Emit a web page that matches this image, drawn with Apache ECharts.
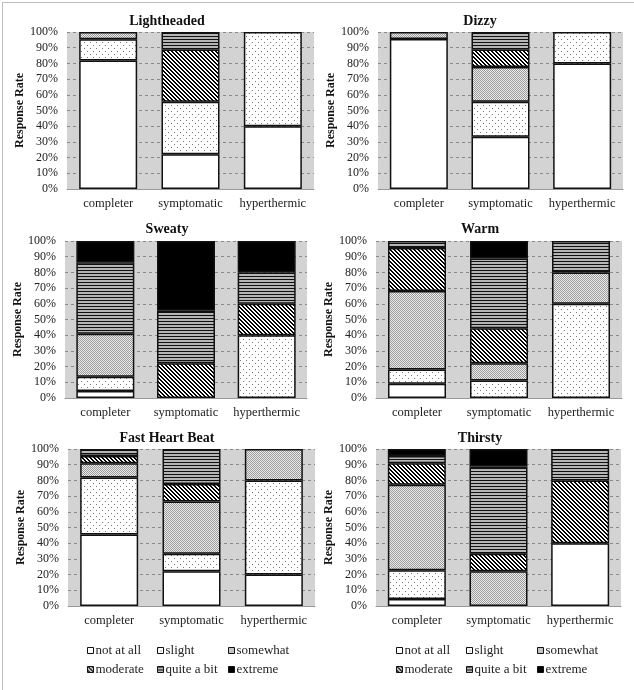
<!DOCTYPE html>
<html><head><meta charset="utf-8">
<script src="https://cdn.jsdelivr.net/npm/echarts@6/dist/echarts.min.js"></script>
<style>html,body{margin:0;padding:0;background:#fff}#c{width:634px;height:690px}</style>
</head><body><div id="c"></div>
<script>
// Categories and response levels
const groups = ['completer', 'symptomatic', 'hyperthermic'];
const levels = ['not at all', 'slight', 'somewhat', 'moderate', 'quite a bit', 'extreme'];
const yTicks = [0, 10, 20, 30, 40, 50, 60, 70, 80, 90, 100];
const titles = ['Lightheaded', 'Dizzy', 'Sweaty', 'Warm', 'Fast Heart Beat', 'Thirsty'];
// Each row = one response level; columns = completer, symptomatic, hyperthermic (%)
const lightheaded = [[81.8, 22.2, 40], [13.6, 33.3, 60], [4.6, 0, 0], [0, 33.3, 0], [0, 11.2, 0], [0, 0, 0]];
const dizzy       = [[95.5, 33.3, 80], [0, 22.2, 20], [4.5, 22.2, 0], [0, 11.1, 0], [0, 11.2, 0], [0, 0, 0]];
const sweaty      = [[4.5, 0, 0], [9.1, 0, 40], [27.3, 0, 0], [0, 22.2, 20], [45.5, 33.3, 20], [13.6, 44.5, 20]];
const warm        = [[9.1, 0, 0], [9.1, 11.1, 60], [50, 11.1, 20], [27.3, 22.2, 0], [4.5, 44.4, 20], [0, 11.2, 0]];
const heartBeat   = [[45.5, 22.2, 20], [36.4, 11.1, 60], [9.1, 33.3, 20], [4.5, 11.1, 0], [4.5, 22.3, 0], [0, 0, 0]];
const thirsty     = [[4.5, 0, 40], [18.2, 0, 0], [54.6, 22.2, 0], [13.6, 11.1, 40], [4.6, 55.6, 20], [4.5, 11.1, 0]];
const panels = [lightheaded, dizzy, sweaty, warm, heartBeat, thirsty];

function pat(w, h, fn) {
  const c = document.createElement('canvas'); c.width = w; c.height = h;
  const g = c.getContext('2d');
  for (let y = 0; y < h; y++) for (let x = 0; x < w; x++) {
    g.fillStyle = fn(x, y); g.fillRect(x, y, 1, 1);
  }
  return { image: c, repeat: 'repeat' };
}
const fills = [
  '#ffffff',
  pat(6, 6, (x, y) => ((x === 0 && y === 0) || (x === 3 && y === 3)) ? '#777' : '#ffffff'),
  pat(2, 2, (x, y) => ((x + y) % 2 === 0) ? '#9a9a9a' : '#ececec'),
  pat(4, 4, (x, y) => (((x - y) % 4 + 4) % 4 < 2) ? '#000' : '#fff'),
  pat(1, 3, (x, y) => y === 0 ? '#111' : '#b5b5b5'),
  '#000000'
];

const gridsPos = [
  { left: 67, top: 32, width: 247, height: 157 },
  { left: 378, top: 32, width: 245, height: 157 },
  { left: 65, top: 241, width: 242, height: 157 },
  { left: 376, top: 241, width: 246, height: 157 },
  { left: 68, top: 449, width: 247, height: 157 },
  { left: 376, top: 449, width: 245, height: 157 }
];
const font = 'Liberation Serif';
const titleCenters = [162, 475, 162, 475, 162, 475];
const titleTops = [9, 9, 217, 217, 426, 426];

const grid = [], xAxis = [], yAxis = [], series = [], title = [];
gridsPos.forEach((p, i) => {
  grid.push(Object.assign({ show: true, backgroundColor: '#d3d3d3', borderWidth: 0 }, p));
  title.push({
    text: titles[i], left: titleCenters[i], top: titleTops[i], textAlign: 'center',
    textStyle: { fontFamily: font, fontWeight: 'bold', fontSize: 14, color: '#111' }
  });
  xAxis.push({
    type: 'category', gridIndex: i, data: groups,
    axisLine: { show: true, lineStyle: { color: '#999', width: 1 } },
    axisTick: { show: false },
    axisLabel: { interval: 0, fontFamily: font, fontSize: 12.5, color: '#222', margin: 8 }
  });
  yAxis.push({
    type: 'value', gridIndex: i, min: yTicks[0], max: yTicks[yTicks.length - 1], interval: 10,
    name: 'Response Rate', nameLocation: 'middle', nameGap: 37,
    nameTextStyle: { fontFamily: font, fontWeight: 'bold', fontSize: 12, color: '#111' },
    axisLine: { show: false }, axisTick: { show: false },
    axisLabel: { fontFamily: font, fontSize: 12, color: '#222', formatter: '{value}%', margin: 9 },
    splitLine: { show: true, lineStyle: { color: '#8a8a8a', type: [3, 3], width: 1 } }
  });
  levels.forEach((lv, k) => {
    series.push({
      name: lv, type: 'bar', stack: 'p' + i, xAxisIndex: i, yAxisIndex: i,
      barWidth: 58, animation: false,
      itemStyle: { color: fills[k], borderColor: '#111', borderWidth: 1.5 },
      data: panels[i][k].map(v => v === 0 ? '-' : v)
    });
  });
});

const legendCols = [[87, 157, 228], [396, 466, 537]];
const legendRows = [644, 663];
const legend = [];
legendCols.forEach(cols => {
  levels.forEach((lv, k) => {
    legend.push({
      data: [lv], left: cols[k % 3], top: legendRows[Math.floor(k / 3)], padding: 0,
      icon: 'rect', itemWidth: 6, itemHeight: 6,
      itemStyle: { borderColor: '#111', borderWidth: 1 },
      textStyle: { fontFamily: font, fontSize: 13, color: '#222', padding: [0, 0, 0, -3] }
    });
  });
});

const chart = echarts.init(document.getElementById('c'), null, { renderer: 'canvas' });
chart.setOption({
  animation: false,
  title, grid, xAxis, yAxis, series, legend,
  graphic: [{ type: 'rect', left: 0, top: 0, shape: { x: 0.5, y: 0.5, width: 633, height: 689 },
    style: { fill: 'none', stroke: '#bdbdbd', lineWidth: 1 }, silent: true }]
});
</script></body></html>
